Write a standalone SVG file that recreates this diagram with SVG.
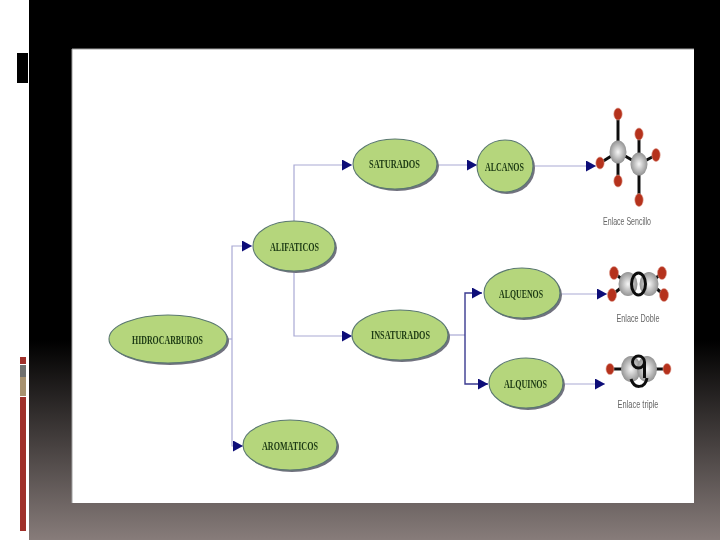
<svg xmlns="http://www.w3.org/2000/svg" width="720" height="540" viewBox="0 0 720 540">
  <defs>
    <linearGradient id="bg" x1="0" y1="0" x2="0" y2="1">
      <stop offset="0" stop-color="#000000"/>
      <stop offset="0.63" stop-color="#000000"/>
      <stop offset="1" stop-color="#877c7a"/>
    </linearGradient>
    <marker id="arrow" viewBox="0 0 10 10" refX="10" refY="5" markerWidth="10" markerHeight="11" markerUnits="userSpaceOnUse" orient="auto" preserveAspectRatio="none">
      <path d="M0 0L10 5L0 10Z" fill="#0c0c78"/>
    </marker>
    <filter id="soft" x="-10%" y="-10%" width="120%" height="120%"><feGaussianBlur stdDeviation="0.45"/></filter>
    <filter id="softer" x="-10%" y="-10%" width="120%" height="120%"><feGaussianBlur stdDeviation="0.7"/></filter>
    <radialGradient id="carbon" cx="0.5" cy="0.5" r="0.55">
      <stop offset="0" stop-color="#f6f6f6"/>
      <stop offset="1" stop-color="#8a8a8a"/>
    </radialGradient>
  </defs>
  <style>
    .shadow { fill: #72727f; }
    .oval { fill: #b5d67c; stroke: #5a7870; stroke-width: 1.1; }
    .lbl { font-family: "Liberation Serif", serif; font-size: 13px; font-weight: bold; fill: #1d3a14; text-anchor: middle; }
    .cap { font-family: "Liberation Sans", sans-serif; font-size: 11px; fill: #666666; text-anchor: middle; }
    .line { fill: none; stroke: #a9a9d4; stroke-width: 1.2; }
    .dark { fill: none; stroke: #3a3a90; stroke-width: 1.4; }
    .o { fill: #b5301c; stroke: #e0a090; stroke-width: 0.6; }
    .c { fill: url(#carbon); }
    .bond { stroke: #111111; stroke-width: 3; fill: none; }
  </style>

  <rect x="0" y="0" width="720" height="540" fill="#ffffff"/>
  <rect x="29" y="0" width="691" height="540" fill="url(#bg)"/>
  <rect x="17" y="53" width="11" height="30" fill="#000000"/>
  <rect x="20" y="357" width="6" height="7" fill="#a0302a"/>
  <rect x="20" y="365" width="6" height="12" fill="#70706e"/>
  <rect x="20" y="377" width="6" height="19" fill="#a8926f"/>
  <rect x="20" y="397" width="6" height="134" fill="#a0302a"/>
  <rect x="72" y="49" width="622" height="454" fill="#ffffff"/>
  <path d="M72 503V49H694" fill="none" stroke="#a0a0a0" stroke-width="1"/>

  <g id="connectors" filter="url(#soft)">
    <path class="line" d="M227 339H232"/>
    <path class="line" d="M232 339V246H252" marker-end="url(#arrow)"/>
    <path class="line" d="M232 339V446H243" marker-end="url(#arrow)"/>
    <path class="line" d="M294 222V165H352" marker-end="url(#arrow)"/>
    <path class="line" d="M294 270V336H352" marker-end="url(#arrow)"/>
    <path class="line" d="M438 165H477" marker-end="url(#arrow)"/>
    <path class="line" d="M533 166H596" marker-end="url(#arrow)"/>
    <path class="line" d="M449 335H465"/>
    <path class="dark" d="M465 335V293H482" marker-end="url(#arrow)"/>
    <path class="dark" d="M465 335V384H488" marker-end="url(#arrow)"/>
    <path class="line" d="M561 294H607" marker-end="url(#arrow)"/>
    <path class="line" d="M564 384H605" marker-end="url(#arrow)"/>
  </g>

  <g id="n-hidrocarburos" filter="url(#soft)">
    <ellipse class="shadow" cx="170" cy="341" rx="59" ry="24"/>
    <ellipse class="oval" cx="168" cy="339" rx="59" ry="24"/>
    <text class="lbl" x="167.500" y="344" textLength="71" lengthAdjust="spacingAndGlyphs">HIDROCARBUROS</text>
  </g>
  <g id="n-alifaticos" filter="url(#soft)">
    <ellipse class="shadow" cx="296" cy="248" rx="41" ry="25"/>
    <ellipse class="oval" cx="294" cy="246" rx="41" ry="25"/>
    <text class="lbl" x="294.500" y="251" textLength="49" lengthAdjust="spacingAndGlyphs">ALIFATICOS</text>
  </g>
  <g id="n-aromaticos" filter="url(#soft)">
    <ellipse class="shadow" cx="292" cy="447" rx="47" ry="25"/>
    <ellipse class="oval" cx="290" cy="445" rx="47" ry="25"/>
    <text class="lbl" x="290" y="450" textLength="56" lengthAdjust="spacingAndGlyphs">AROMATICOS</text>
  </g>
  <g id="n-saturados" filter="url(#soft)">
    <ellipse class="shadow" cx="397" cy="166" rx="42" ry="25"/>
    <ellipse class="oval" cx="395" cy="164" rx="42" ry="25"/>
    <text class="lbl" x="394.500" y="168" textLength="51" lengthAdjust="spacingAndGlyphs">SATURADOS</text>
  </g>
  <g id="n-alcanos" filter="url(#soft)">
    <ellipse class="shadow" cx="507" cy="168" rx="28" ry="26"/>
    <ellipse class="oval" cx="505" cy="166" rx="28" ry="26"/>
    <text class="lbl" x="504.500" y="171" textLength="39" lengthAdjust="spacingAndGlyphs">ALCANOS</text>
  </g>
  <g id="n-insaturados" filter="url(#soft)">
    <ellipse class="shadow" cx="402" cy="337" rx="48" ry="25"/>
    <ellipse class="oval" cx="400" cy="335" rx="48" ry="25"/>
    <text class="lbl" x="400.500" y="339" textLength="59" lengthAdjust="spacingAndGlyphs">INSATURADOS</text>
  </g>
  <g id="n-alquenos" filter="url(#soft)">
    <ellipse class="shadow" cx="524" cy="295" rx="38" ry="25"/>
    <ellipse class="oval" cx="522" cy="293" rx="38" ry="25"/>
    <text class="lbl" x="521" y="298" textLength="44" lengthAdjust="spacingAndGlyphs">ALQUENOS</text>
  </g>
  <g id="n-alquinos" filter="url(#soft)">
    <ellipse class="shadow" cx="528" cy="385" rx="37" ry="25"/>
    <ellipse class="oval" cx="526" cy="383" rx="37" ry="25"/>
    <text class="lbl" x="525.500" y="388" textLength="43" lengthAdjust="spacingAndGlyphs">ALQUINOS</text>
  </g>

  <g id="m-sencillo" filter="url(#softer)">
    <path class="bond" d="M618 114V181M600 163L618 152L639 164L656 155M639 134V200"/>
    <ellipse class="c" cx="618" cy="152" rx="8.500" ry="11.500"/>
    <ellipse class="c" cx="639" cy="164" rx="8.500" ry="11.500"/>
    <ellipse class="o" cx="618" cy="114" rx="4.200" ry="6"/>
    <ellipse class="o" cx="639" cy="134" rx="4.200" ry="6"/>
    <ellipse class="o" cx="656" cy="155" rx="4.200" ry="6.500"/>
    <ellipse class="o" cx="600" cy="163" rx="4.200" ry="6"/>
    <ellipse class="o" cx="618" cy="181" rx="4.200" ry="6"/>
    <ellipse class="o" cx="639" cy="200" rx="4.200" ry="6.500"/>
    <text class="cap" x="627" y="225" textLength="48" lengthAdjust="spacingAndGlyphs">Enlace Sencillo</text>
  </g>
  <g id="m-doble" filter="url(#softer)">
    <path class="bond" d="M614 273L627 283L612 295M662 273L650 283L664 295"/>
    <ellipse class="c" cx="628" cy="284" rx="9.500" ry="12"/>
    <ellipse class="c" cx="649" cy="284" rx="9.500" ry="12"/>
    <ellipse class="bond" cx="638.500" cy="284" rx="7" ry="11"/>
    <ellipse class="o" cx="614" cy="273" rx="4.500" ry="6.500"/>
    <ellipse class="o" cx="612" cy="295" rx="4.500" ry="6.500"/>
    <ellipse class="o" cx="662" cy="273" rx="4.500" ry="6.500"/>
    <ellipse class="o" cx="664" cy="295" rx="4.500" ry="6.500"/>
    <text class="cap" x="638" y="322" textLength="43" lengthAdjust="spacingAndGlyphs">Enlace Doble</text>
  </g>
  <g id="m-triple" filter="url(#softer)">
    <path class="bond" d="M610 369H667"/>
    <ellipse class="c" cx="631" cy="369" rx="10" ry="13"/>
    <ellipse class="c" cx="647" cy="369" rx="10" ry="13"/>
    <ellipse class="bond" cx="638.500" cy="362" rx="6" ry="6"/>
    <path class="bond" d="M631 379C634 389 645 389 647 378M644.500 362V378"/>
    <ellipse class="o" cx="610" cy="369" rx="4" ry="5.500"/>
    <ellipse class="o" cx="667" cy="369" rx="4" ry="5.500"/>
    <text class="cap" x="638" y="408" textLength="41" lengthAdjust="spacingAndGlyphs">Enlace triple</text>
  </g>
</svg>
